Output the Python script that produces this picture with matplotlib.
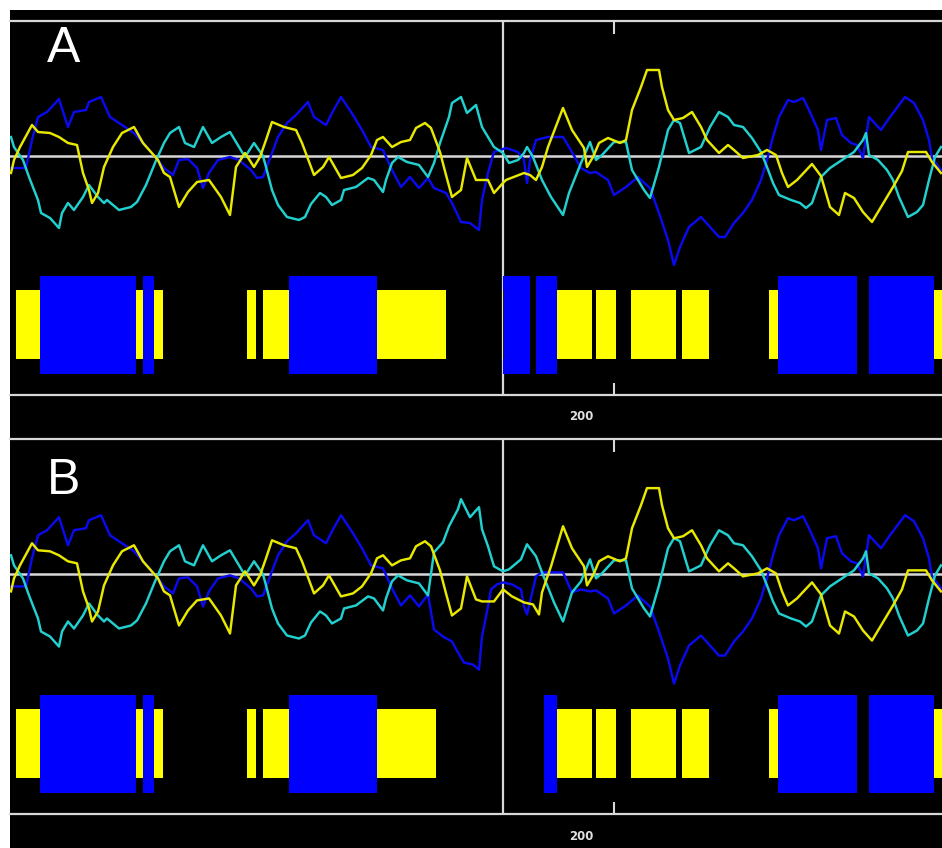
import matplotlib
matplotlib.use("Agg")
import matplotlib.pyplot as plt
from matplotlib.transforms import ScaledTranslation, blended_transform_factory

# ---------------- data (residue position, profile score) ----------------
blue_pos = [-1, 4, 6, 8, 11, 15, 18, 20, 24, 25, 29, 32, 36, 40, 43, 48, 50, 53, 55, 58,
            61, 63, 65, 68, 72, 75, 79, 81, 83, 86, 88, 91, 94, 98, 100, 104, 106, 109, 113, 116,
            119, 123, 126, 129, 132, 135, 138, 140, 144, 146, 149, 152, 155, 156, 158, 160, 164, 168, 170, 171,
            172, 174, 178, 183, 185, 189, 192, 194, 198, 200, 204, 208, 209, 212, 215, 218, 220, 222, 225, 229,
            232, 235, 237, 240, 243, 246, 249, 251, 253, 255, 258, 260, 263, 265, 268, 269, 271, 274, 276, 279,
            281, 283, 285, 289, 292, 297, 300, 303, 305, 306, 309]
blue_val = [-0.12, -0.12, 0.16, 0.39, 0.44, 0.57, 0.29, 0.44, 0.46, 0.54, 0.59, 0.39, 0.31, 0.23, 0.13,
            -0.04, -0.12, -0.19, -0.04, -0.03, -0.12, -0.32, -0.17, -0.04, -0.01, -0.04, -0.14, -0.22, -0.21, 0.03,
            0.19, 0.33, 0.41, 0.54, 0.39, 0.31, 0.43, 0.59, 0.41, 0.26, 0.09, 0.06, -0.14, -0.31, -0.21,
            -0.32, -0.22, -0.32, -0.37, -0.47, -0.66, -0.67, -0.74, -0.44, -0.17, 0.04, 0.08, 0.04, -0.04, -0.27,
            -0.04, 0.16, 0.19, 0.19, 0.09, -0.12, -0.17, -0.16, -0.24, -0.39, -0.31, -0.21, -0.24, -0.32, -0.57,
            -0.84, -1.09, -0.91, -0.71, -0.61, -0.71, -0.81, -0.81, -0.67, -0.57, -0.44, -0.24, -0.04, 0.19, 0.39,
            0.56, 0.54, 0.58, 0.46, 0.26, 0.06, 0.36, 0.38, 0.21, 0.13, 0.11, -0.02, 0.39, 0.26, 0.39,
            0.59, 0.53, 0.36, 0.16, -0.02, -0.14]

cyan_pos = [-1, 0, 3, 5, 8, 9, 12, 15, 16, 18, 20, 23, 25, 28, 30, 31, 35, 39, 41, 44,
            47, 50, 52, 55, 57, 60, 63, 66, 69, 72, 75, 77, 80, 83, 84, 86, 88, 91, 95, 97,
            99, 102, 104, 106, 109, 110, 114, 118, 120, 123, 124, 126, 128, 131, 135, 138, 140, 142, 145, 146,
            149, 151, 154, 156, 158, 160, 163, 165, 168, 170, 171, 173, 176, 179, 183, 185, 189, 192, 194, 196,
            200, 204, 206, 210, 212, 215, 218, 220, 222, 225, 229, 232, 235, 238, 240, 243, 246, 249, 251, 253,
            255, 259, 262, 264, 266, 269, 272, 276, 280, 283, 284, 285, 288, 291, 293, 295, 298, 301, 303, 305,
            307, 309]
cyan_val = [0.19, 0.09, -0.04, -0.21, -0.44, -0.57, -0.62, -0.72, -0.57, -0.47, -0.54, -0.41, -0.29, -0.41, -0.47,
            -0.44, -0.54, -0.51, -0.46, -0.29, -0.07, 0.13, 0.23, 0.29, 0.13, 0.09, 0.29, 0.13, 0.19, 0.24,
            0.09, -0.01, 0.13, 0.00, -0.11, -0.34, -0.49, -0.61, -0.64, -0.61, -0.48, -0.37, -0.41, -0.49, -0.44,
            -0.34, -0.31, -0.22, -0.24, -0.36, -0.24, -0.07, -0.01, -0.06, -0.09, -0.21, -0.07, 0.13, 0.39, 0.53,
            0.59, 0.43, 0.51, 0.29, 0.19, 0.09, 0.03, -0.07, -0.04, 0.03, 0.09, -0.01, -0.24, -0.41, -0.59,
            -0.37, -0.07, 0.14, -0.04, 0.01, 0.14, 0.14, -0.14, -0.34, -0.42, -0.11, 0.26, 0.36, 0.33, 0.03,
            0.09, 0.29, 0.44, 0.39, 0.31, 0.29, 0.18, 0.04, -0.11, -0.27, -0.39, -0.44, -0.47, -0.52, -0.47,
            -0.21, -0.12, -0.04, 0.04, 0.16, 0.23, 0.01, -0.04, -0.14, -0.24, -0.41, -0.61, -0.56, -0.49, -0.24,
            -0.01, 0.09]

yellow_pos = [-1, 0, 2, 6, 8, 12, 15, 18, 21, 23, 25, 26, 28, 30, 33, 36, 40, 43, 48, 50,
              52, 55, 58, 61, 65, 69, 72, 74, 77, 80, 82, 84, 86, 90, 94, 96, 100, 103, 105, 109,
              113, 116, 119, 121, 123, 126, 129, 132, 134, 137, 139, 142, 144, 146, 149, 151, 154, 158, 160, 163,
              164, 170, 172, 174, 176, 178, 183, 186, 190, 191, 193, 195, 198, 202, 204, 206, 209, 211, 215, 216,
              218, 220, 223, 226, 229, 231, 235, 238, 240, 243, 248, 251, 254, 256, 258, 261, 266, 269, 272, 275,
              277, 280, 283, 286, 289, 293, 296, 298, 304, 306, 309]
yellow_val = [-0.17, -0.04, 0.09, 0.31, 0.24, 0.23, 0.19, 0.13, 0.11, -0.17, -0.34, -0.47, -0.37, -0.11, 0.09,
              0.23, 0.29, 0.13, -0.04, -0.17, -0.21, -0.51, -0.36, -0.26, -0.24, -0.41, -0.59, -0.11, 0.03, -0.11,
              -0.01, 0.16, 0.34, 0.29, 0.26, 0.13, -0.19, -0.11, -0.01, -0.22, -0.19, -0.12, 0.01, 0.16, 0.19,
              0.09, 0.14, 0.16, 0.28, 0.33, 0.28, 0.04, -0.19, -0.41, -0.34, -0.02, -0.24, -0.24, -0.37, -0.27,
              -0.24, -0.17, -0.19, -0.24, -0.11, 0.09, 0.48, 0.26, 0.08, -0.11, -0.01, 0.13, 0.18, 0.13, 0.16,
              0.46, 0.69, 0.86, 0.86, 0.69, 0.46, 0.36, 0.38, 0.44, 0.29, 0.16, 0.03, 0.11, 0.06, -0.02,
              0.01, 0.06, 0.01, -0.17, -0.31, -0.24, -0.08, -0.20, -0.51, -0.59, -0.37, -0.42, -0.56, -0.66, -0.51,
              -0.31, -0.15, 0.04, 0.04, -0.06, -0.17]

# Panel B differs from panel A only around the cursor region
blue_pos_B = [138, 140, 143, 146, 148, 150, 153, 155, 156, 158, 159, 161, 163, 166, 169, 170, 171, 174, 176, 183, 186, 189]
blue_val_B = [-0.20, -0.55, -0.62, -0.67, -0.78, -0.88, -0.90, -0.95, -0.62, -0.32, -0.15, -0.10, -0.08, -0.10,
              -0.15, -0.32, -0.40, -0.02, 0.02, 0.02, -0.18, -0.15]
cyan_pos_B = [140, 143, 145, 148, 149, 152, 155, 156, 158, 160, 163, 165, 169, 171, 174, 176, 180, 183, 186, 189, 192]
cyan_val_B = [0.22, 0.32, 0.48, 0.65, 0.75, 0.57, 0.67, 0.45, 0.28, 0.08, 0.03, 0.05, 0.15, 0.30, 0.18, 0.02,
              -0.28, -0.47, -0.18, -0.07, 0.15]
yellow_pos_B = [154, 156, 160, 163, 166, 170, 173, 175, 176, 179]
yellow_val_B = [-0.25, -0.27, -0.27, -0.15, -0.22, -0.28, -0.30, -0.40, -0.18, 0.08]

# secondary structure segments (start, end residue)
yellow_seg_A = [(0.5, 8.5), (39.5, 49.5), (77.5, 80.5), (83, 91.5), (120.5, 144), (162.5, 171),
                (180, 192.5), (194, 200.5), (205.5, 220.5), (222.5, 231.5), (251.5, 254.5), (305.5, 310)]
blue_seg_A = [(8.5, 40.5), (43, 46.5), (91.5, 121), (163, 172), (174, 181), (254.5, 281), (285, 306.5)]
yellow_seg_B = [(0.5, 8.5), (39.5, 49.5), (77.5, 80.5), (83, 91.5), (120.5, 140.5),
                (180, 192.5), (194, 200.5), (205.5, 220.5), (222.5, 231.5), (251.5, 254.5), (305.5, 310)]
blue_seg_B = [(8.5, 40.5), (43, 46.5), (91.5, 121), (176.5, 181), (254.5, 281), (285, 306.5)]

tick_positions = [200]
tick_labels = ["200"]
cursor_pos = 163
panel_labels = ["A", "B"]

# ---------------- styling ----------------
W, H = 942, 848
C_BLUE, C_CYAN, C_YELLOW = "#0a0aee", "#22d0d0", "#e8e800"
BAR_YELLOW, BAR_BLUE = "#ffff00", "#0000ff"
GRID = "#d8d8d8"
XLIM = (-4 / 3, 928 / 3)
YLIM = (-2.39, 1.35)
YEL_BAND = (-2.03, -1.34)
BLU_BAND = (-2.18, -1.20)


def merge(pa, va, pb, vb):
    lo, hi = pb[0], pb[-1]
    pts = [(p, v) for p, v in zip(pa, va) if p < lo or p > hi] + list(zip(pb, vb))
    pts.sort()
    return [p for p, _ in pts], [v for _, v in pts]


fig = plt.figure(figsize=(W / 100, H / 100), dpi=100, facecolor="white")
bg = fig.add_axes([10 / W, 0, (W - 10) / W, (H - 10) / H], zorder=-5)
bg.set_facecolor("black")
bg.set_xticks([])
bg.set_yticks([])
for s in bg.spines.values():
    s.set_visible(False)

panels = [
    dict(top=21, bottom=395, label_base=62,
         series=[(blue_pos, blue_val, C_BLUE), (cyan_pos, cyan_val, C_CYAN), (yellow_pos, yellow_val, C_YELLOW)],
         yseg=yellow_seg_A, bseg=blue_seg_A),
    dict(top=439, bottom=814, label_base=494,
         series=[(*merge(blue_pos, blue_val, blue_pos_B, blue_val_B), C_BLUE),
                 (*merge(cyan_pos, cyan_val, cyan_pos_B, cyan_val_B), C_CYAN),
                 (*merge(yellow_pos, yellow_val, yellow_pos_B, yellow_val_B), C_YELLOW)],
         yseg=yellow_seg_B, bseg=blue_seg_B),
]

for i, pn in enumerate(panels):
    ax = fig.add_axes([10 / W, (H - pn["bottom"]) / H, (W - 10) / W, (pn["bottom"] - pn["top"]) / H])
    ax.set_facecolor("black")
    ax.set_xlim(*XLIM)
    ax.set_ylim(*YLIM)
    for s in ("left", "right"):
        ax.spines[s].set_visible(False)
    for s in ("top", "bottom"):
        ax.spines[s].set_color(GRID)
        ax.spines[s].set_linewidth(1.6)
    ax.set_yticks([])
    ax.set_xticks(tick_positions)
    ax.tick_params(axis="x", direction="in", length=9, width=1.5, color=GRID,
                   top=True, bottom=True, labelbottom=False, labeltop=False)

    ax.axvline(cursor_pos, color=GRID, lw=1.6, zorder=1)
    ax.axhline(0, color=GRID, lw=1.8, zorder=2)

    for p, v, c in pn["series"]:
        ax.plot(p, v, color=c, lw=1.75, zorder=3)

    for a, b in pn["yseg"]:
        ax.bar(a, YEL_BAND[1] - YEL_BAND[0], width=b - a, bottom=YEL_BAND[0], align="edge",
               color=BAR_YELLOW, linewidth=0, zorder=4)
    for a, b in pn["bseg"]:
        ax.bar(a, BLU_BAND[1] - BLU_BAND[0], width=b - a, bottom=BLU_BAND[0], align="edge",
               color=BAR_BLUE, linewidth=0, zorder=5)

    trans = blended_transform_factory(ax.transData, ax.transAxes) + \
        ScaledTranslation(-0.33, -0.22, fig.dpi_scale_trans)
    for tp, tl in zip(tick_positions, tick_labels):
        ax.text(tp, 0, tl, transform=trans, ha="center", va="center", fontsize=8.5,
                color="#e0e0e0", fontweight="bold", family="DejaVu Sans", clip_on=False)

    fig.text(47 / W, (H - pn["label_base"]) / H, panel_labels[i], color="white",
             fontsize=36, family="Liberation Sans", ha="left", va="baseline", zorder=10)

fig.savefig("out.png", dpi=100, facecolor="white")
